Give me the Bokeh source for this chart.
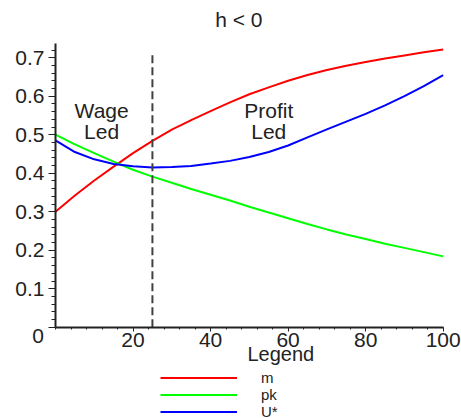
from bokeh.plotting import figure
from bokeh.models import FixedTicker, Label, Legend, LegendItem, Range1d
from bokeh.embed import file_html
from bokeh.resources import INLINE

# ---- data ----
x_vals = [0, 5, 10, 15, 20, 25, 30, 35, 40, 45, 50, 55, 60, 65, 70, 75, 80, 85, 90, 95, 100]
m_vals = [0.300, 0.342, 0.381, 0.417, 0.452, 0.484, 0.513, 0.538, 0.561, 0.584, 0.605,
          0.623, 0.640, 0.655, 0.668, 0.679, 0.689, 0.698, 0.706, 0.714, 0.721]
pk_vals = [0.500, 0.475, 0.452, 0.430, 0.409, 0.391, 0.375, 0.359, 0.344, 0.329, 0.313,
           0.298, 0.283, 0.268, 0.254, 0.241, 0.229, 0.217, 0.206, 0.195, 0.184]
u_vals = [0.485, 0.455, 0.436, 0.424, 0.418, 0.415, 0.416, 0.419, 0.425, 0.432, 0.442,
          0.455, 0.472, 0.493, 0.514, 0.534, 0.554, 0.576, 0.600, 0.626, 0.655]

threshold_x = 25
threshold_top = 0.71

x_axis_bounds = (0, 100)
y_axis_bounds = (0, 0.737)
x_ticks = [20, 40, 60, 80, 100]
x_tick_labels = ["20", "40", "60", "80", "100"]
x_minor = list(range(0, 101, 4))
y_ticks = [0.0, 0.1, 0.2, 0.3, 0.4, 0.5, 0.6, 0.7]
y_tick_labels = ["", "0.1", "0.2", "0.3", "0.4", "0.5", "0.6", "0.7"]
y_minor = [round(i * 0.02, 2) for i in range(0, 37)]

series_names = ["m", "pk", "U*"]
series_colors = ["#ff0000", "#00ff00", "#0000ff"]

# ---- layout geometry (pixels on the canvas) ----
W, H = 461, 418
X0_PX, X100_PX = 55.0, 442.7      # where x=0 and x=100 fall
Y0_PX, PX_PER_Y = 326.7, 385.0    # where y=0 falls, px per unit of y
px_per_x = (X100_PX - X0_PX) / 100.0
x_start = -X0_PX / px_per_x
x_end = (W - X0_PX) / px_per_x
y_start = -(H - Y0_PX) / PX_PER_Y
y_end = Y0_PX / PX_PER_Y

FONT = "Liberation Sans"
TXT = "#222222"

p = figure(width=W, height=H, output_backend="svg", toolbar_location=None,
           x_range=Range1d(x_start, x_end), y_range=Range1d(y_start, y_end),
           min_border=0, min_border_left=0, min_border_right=0,
           min_border_top=0, min_border_bottom=0)
p.outline_line_color = None
p.background_fill_color = "white"
p.border_fill_color = "white"
p.xgrid.visible = False
p.ygrid.visible = False

# axes drawn at the data origin
p.xaxis.fixed_location = 0
p.yaxis.fixed_location = 0
p.xaxis.bounds = x_axis_bounds
p.yaxis.bounds = y_axis_bounds
p.xaxis.ticker = FixedTicker(ticks=x_ticks, minor_ticks=x_minor)
p.xaxis.major_label_overrides = {t: l for t, l in zip(x_ticks, x_tick_labels)}
p.yaxis.ticker = FixedTicker(ticks=y_ticks, minor_ticks=y_minor)
p.yaxis.major_label_overrides = {t: l for t, l in zip(y_ticks, y_tick_labels)}
for ax in (p.xaxis, p.yaxis):
    ax.axis_line_color = "#222222"
    ax.axis_line_width = 2
    ax.major_tick_line_color = "#222222"
    ax.minor_tick_line_color = "#222222"
    ax.major_tick_in = 0
    ax.minor_tick_in = 0
    ax.major_label_text_font = FONT
    ax.major_label_text_font_size = "21px"
    ax.major_label_text_color = TXT
p.yaxis.major_tick_out = 7
p.yaxis.minor_tick_out = 4
p.yaxis.major_label_standoff = 4
p.xaxis.major_tick_out = 4
p.xaxis.minor_tick_out = 2
p.xaxis.major_label_standoff = 2

# curves
renderers = []
for vals, col in zip([m_vals, pk_vals, u_vals], series_colors):
    r = p.line(x_vals, vals, line_color=col, line_width=2)
    renderers.append(r)

# threshold
p.line([threshold_x, threshold_x], [0, threshold_top], line_color="#404040",
       line_width=2, line_dash="8 4")

# title
p.add_layout(Label(x=47.3, y=0.798, text="h < 0", text_font=FONT, text_font_size="21px",
                   text_align="center", text_baseline="middle", text_color=TXT))

# region annotations
for txt, x, y in [("Wage", 11.9, 0.563), ("Led", 11.9, 0.508),
                  ("Profit", 55.0, 0.563), ("Led", 55.0, 0.508)]:
    p.add_layout(Label(x=x, y=y, text=txt, text_font=FONT, text_font_size="21px",
                       text_align="center", text_baseline="middle", text_color=TXT))

# origin label
p.add_layout(Label(x=-3.0, y=-0.0236, text="0", text_font=FONT, text_font_size="21px",
                   text_align="right", text_baseline="middle", text_color=TXT))
# legend title
p.add_layout(Label(x=49.5, y=-0.0696, text="Legend", text_font=FONT, text_font_size="20px",
                   text_align="left", text_baseline="middle", text_color=TXT))

ROW = 17
first_row_center = 377.0
legend_h = 3 * ROW
legend_bottom = first_row_center - ROW / 2 + legend_h
legend = Legend(items=[LegendItem(label=n, renderers=[r]) for n, r in zip(series_names, renderers)],
                location=(160, H - legend_bottom), padding=0, margin=0, spacing=0,
                glyph_width=77, glyph_height=ROW, label_height=ROW, label_standoff=24,
                label_text_font=FONT, label_text_font_size="15px", label_text_color=TXT,
                border_line_color=None, background_fill_alpha=0)
p.add_layout(legend, "center")

open("out.html", "w").write(file_html(p, INLINE))
